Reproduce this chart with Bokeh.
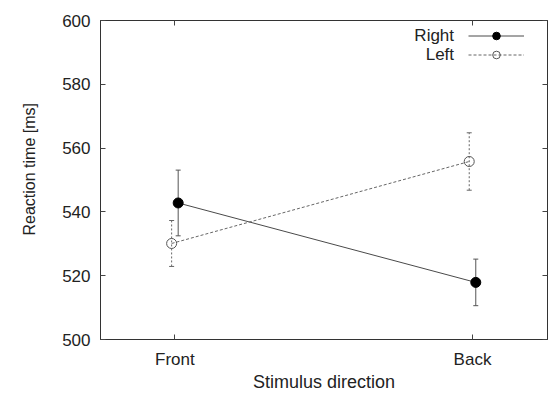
from bokeh.plotting import figure
from bokeh.models import (ColumnDataSource, Whisker, TeeHead, FixedTicker, LinearAxis,
                          Range1d, Legend, LegendItem, Label, Title)
from bokeh.core.properties import value
from bokeh.embed import file_html
from bokeh.resources import INLINE

# ---- data ----
categories = ["Front", "Back"]
right_mean = [542.8, 517.9]
right_err = [10.3, 7.3]
left_mean = [530.1, 555.8]
left_err = [7.2, 9.0]
y_ticks = [500, 520, 540, 560, 580, 600]
series_names = ["Right", "Left"]
x_title = "Stimulus direction"
y_title = "Reaction time [ms]"

FONT = "Liberation Sans"
TXT = "#222222"
pos = [i + 1 for i in range(len(categories))]
dodge = 0.011


def make_source(mean, err, shift):
    return ColumnDataSource(dict(
        x=[p + shift for p in pos],
        y=mean,
        upper=[m + e for m, e in zip(mean, err)],
        lower=[m - e for m, e in zip(mean, err)],
    ))


src_r = make_source(right_mean, right_err, dodge)
src_l = make_source(left_mean, left_err, -dodge)

X0, X1 = 0.75, 2.252
p = figure(width=550, height=394, output_backend="svg", toolbar_location=None,
           x_range=Range1d(X0, X1), y_range=Range1d(500, 600),
           min_border_left=99, min_border_right=3, min_border_top=20, min_border_bottom=55,
           background_fill_color="white", border_fill_color="white")
p.grid.visible = False
p.outline_line_color = "#333333"
p.outline_line_width = 1

# bottom / left axes
p.xaxis.ticker = FixedTicker(ticks=pos)
p.xaxis.major_label_overrides = {pp: c for pp, c in zip(pos, categories)}
p.yaxis.ticker = FixedTicker(ticks=y_ticks)
for ax in (p.xaxis[0], p.yaxis[0]):
    ax.major_tick_in = 5
    ax.major_tick_out = 0
    ax.minor_tick_line_color = None
    ax.axis_line_color = "#333333"
    ax.major_tick_line_color = "#444444"
    ax.major_label_text_font = FONT
    ax.major_label_text_font_size = "17px"
    ax.major_label_text_color = TXT
    ax.major_label_standoff = 10

p.xaxis.axis_label = x_title
p.xaxis.axis_label_text_font = FONT
p.xaxis.axis_label_text_font_size = "18px"
p.xaxis.axis_label_text_font_style = "normal"
p.xaxis.axis_label_text_color = TXT
p.xaxis.axis_label_standoff = 0

# y-axis title, placed as a side title so it can sit where the reference has it
p.add_layout(Title(text=y_title, align="left", vertical_align="top", offset=104, standoff=40,
                   text_font=FONT, text_font_size="16px", text_font_style="normal",
                   text_color=TXT), "left")

# mirrored tick axes (top / right)
top_ax = LinearAxis(ticker=FixedTicker(ticks=pos), major_label_text_font_size="0px",
                    major_label_standoff=0, major_tick_in=5, major_tick_out=0,
                    minor_tick_line_color=None, axis_line_color="#333333",
                    major_tick_line_color="#444444")
right_ax = LinearAxis(ticker=FixedTicker(ticks=y_ticks), major_label_text_font_size="0px",
                      major_label_standoff=0, major_tick_in=5, major_tick_out=0,
                      minor_tick_line_color=None, axis_line_color="#333333",
                      major_tick_line_color="#444444")
p.add_layout(top_ax, "above")
p.add_layout(right_ax, "right")

# error bars
w_r = Whisker(source=src_r, base="x", upper="upper", lower="lower", level="underlay",
              line_color="#555555", line_width=1,
              upper_head=TeeHead(size=5, line_color="#555555"),
              lower_head=TeeHead(size=5, line_color="#555555"))
w_l = Whisker(source=src_l, base="x", upper="upper", lower="lower", level="underlay",
              line_color="#666666", line_width=1, line_dash="2 2",
              upper_head=TeeHead(size=5, line_color="#666666"),
              lower_head=TeeHead(size=5, line_color="#666666"))
p.add_layout(w_r)
p.add_layout(w_l)

# lines and markers
ln_r = p.line("x", "y", source=src_r, line_color="#4a4a4a", line_width=1)
ln_l = p.line("x", "y", source=src_l, line_color="#666666", line_width=1, line_dash="3 2")
mk_r = p.scatter("x", "y", source=src_r, marker="circle", size=10,
                 fill_color="black", line_color="black")
mk_l = p.scatter("x", "y", source=src_l, marker="circle", size=10,
                 fill_color=None, line_color="#555555", line_width=1)

# legend samples (glyph on the right, text right-aligned to its left)
legend = Legend(items=[LegendItem(label=value(" "), renderers=[ln_r, mk_r]),
                       LegendItem(label=value(" "), renderers=[ln_l, mk_l])],
                location=(368, 275), glyph_width=56, glyph_height=19, label_height=19,
                label_width=0, label_standoff=0, padding=0, spacing=0, margin=0,
                border_line_color=None, background_fill_alpha=0,
                label_text_font_size="1px")
p.add_layout(legend)

for name, yy in zip(series_names, [595.2, 589.25]):
    p.add_layout(Label(x=1.938, y=yy, text=name, text_align="right", text_baseline="middle",
                       text_font=FONT, text_font_size="17px", text_color=TXT))

open("out.html", "w").write(file_html(p, INLINE))
